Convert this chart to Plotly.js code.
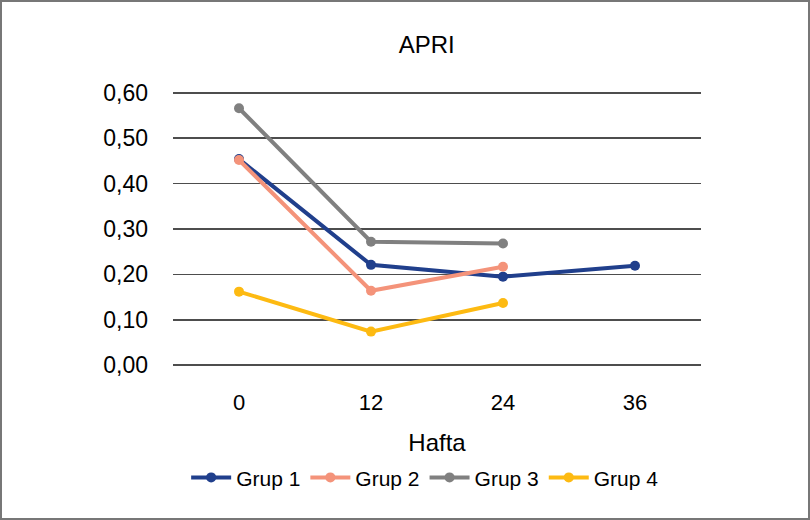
<!DOCTYPE html>
<html>
<head>
<meta charset="utf-8">
<script src="https://cdn.plot.ly/plotly-3.0.1.min.js"></script>
<style>
  html, body { margin: 0; padding: 0; background: #fff; }
  #chart { width: 806px; height: 516px; border: 2px solid #777; }
</style>
</head>
<body>
<div id="chart"></div>
<script>
const weeks = ['0', '12', '24', '36'];
const grup1 = [0.454, 0.221, 0.195, 0.219];
const grup2 = [0.452, 0.164, 0.217, null];
const grup3 = [0.566, 0.272, 0.268, null];
const grup4 = [0.162, 0.074, 0.137, null];
const seriesNames = ['Grup 1', 'Grup 2', 'Grup 3', 'Grup 4'];
const seriesColors = ['#203F8C', '#F4937A', '#808080', '#FDBA12'];
const seriesValues = [grup1, grup2, grup3, grup4];
const yTicks = [0, 0.1, 0.2, 0.3, 0.4, 0.5, 0.6];

const traces = seriesValues.map((vals, i) => ({
  type: 'scatter',
  mode: 'lines+markers',
  name: seriesNames[i],
  x: weeks,
  y: vals,
  line: { color: seriesColors[i], width: 4 },
  marker: { color: seriesColors[i], size: 10 },
  connectgaps: false
}));

const font = "'Liberation Sans', Arial, sans-serif";
const layout = {
  width: 806, height: 516,
  margin: { l: 171, r: 107, t: 89, b: 151 },
  paper_bgcolor: '#fff', plot_bgcolor: '#fff',
  separators: ',.',
  font: { family: font, size: 21, color: '#000' },
  title: { text: 'APRI', font: { family: font, size: 24, color: '#000' }, xref: 'container', x: 0.527, xanchor: 'center', yref: 'container', y: 0.918, yanchor: 'middle' },
  xaxis: {
    type: 'category', range: [-0.5, 3.5],
    showgrid: false, zeroline: false, showline: false, ticks: '',
    ticklabelstandoff: 20,
    tickfont: { family: font, size: 22, color: '#000' },
    title: { text: 'Hafta', font: { family: font, size: 24, color: '#000' }, standoff: 20 }
  },
  yaxis: {
    range: [-0.004, 0.604], tickvals: yTicks, tickformat: '.2f',
    showgrid: true, gridcolor: '#4d4d4d', gridwidth: 1.5,
    zeroline: false, showline: false, ticks: '',
    ticklabelstandoff: 24,
    tickfont: { family: font, size: 23, color: '#000' }
  },
  showlegend: true,
  legend: {
    orientation: 'h', xref: 'container', x: 0.525, xanchor: 'center',
    yref: 'container', y: 0.078, yanchor: 'middle',
    font: { family: font, size: 21, color: '#000' },
    itemwidth: 40, traceorder: 'normal'
  }
};

Plotly.newPlot('chart', traces, layout, { displayModeBar: false, staticPlot: true });
</script>
</body>
</html>
